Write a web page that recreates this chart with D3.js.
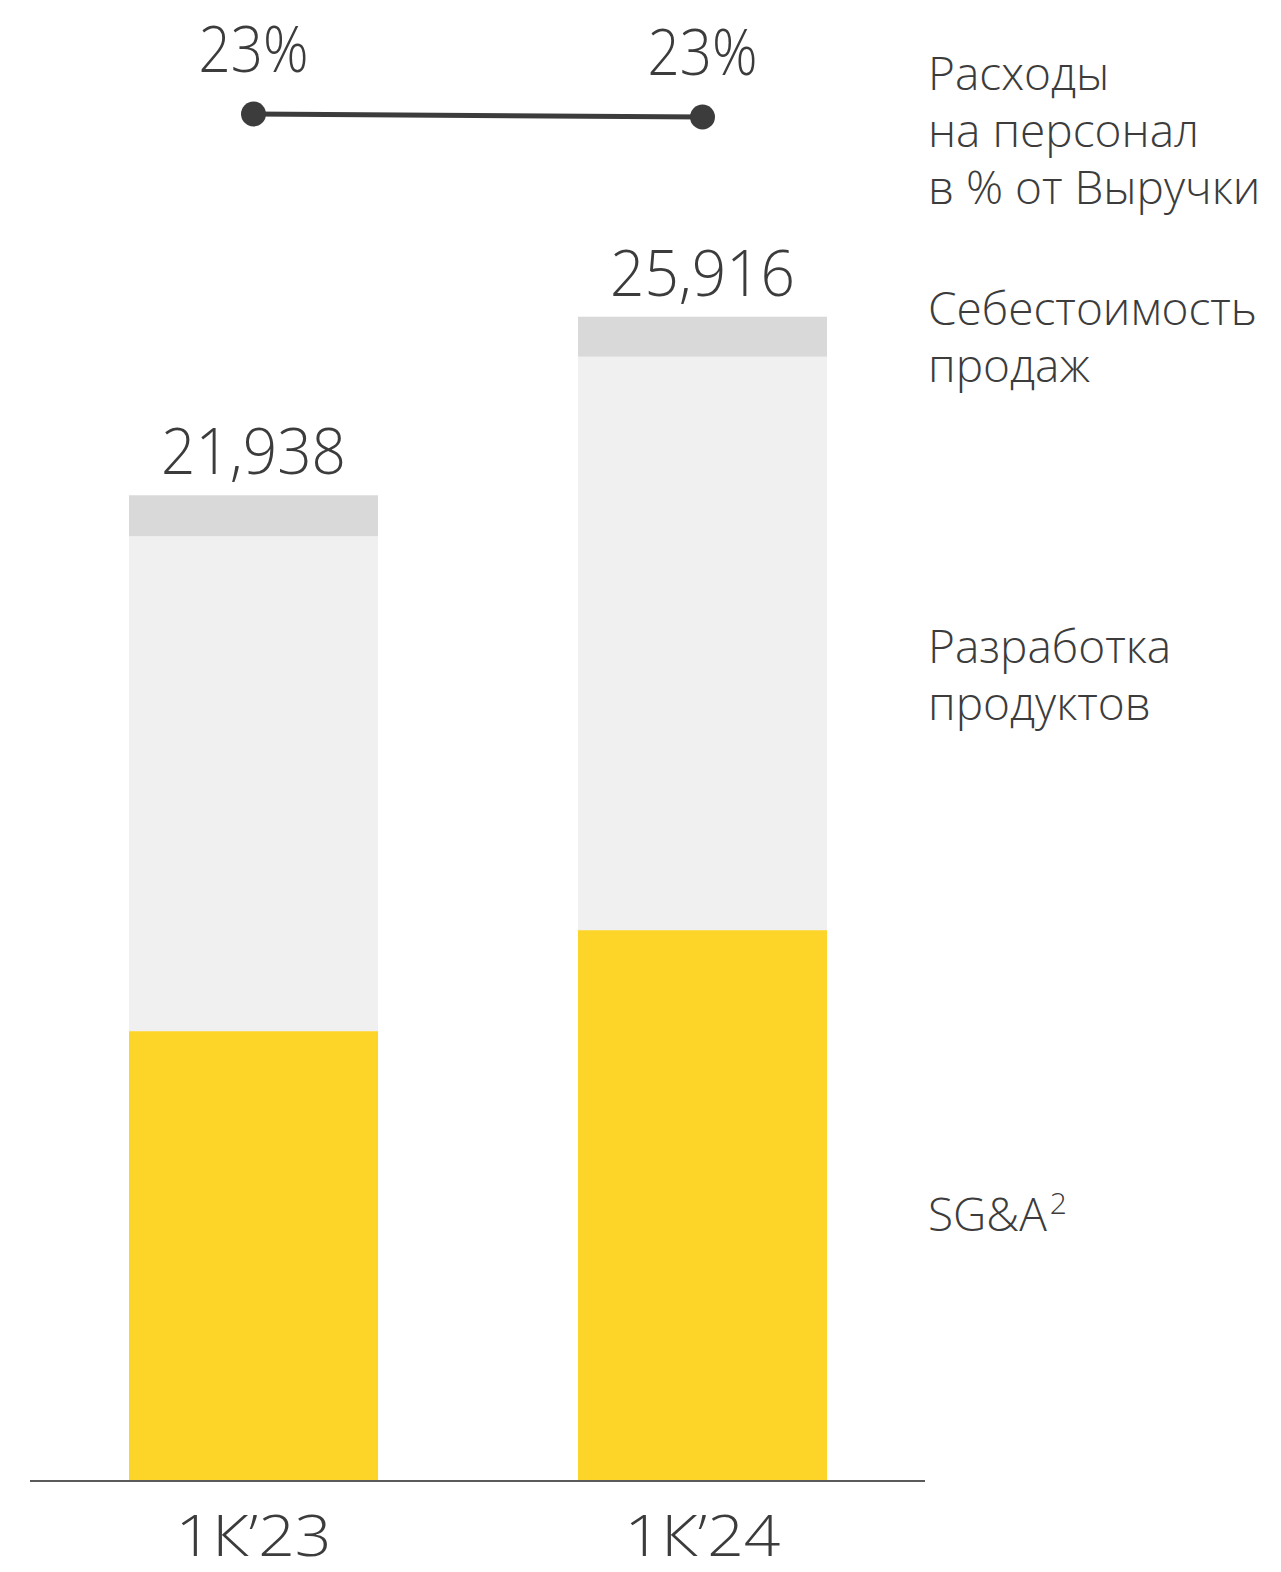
<!DOCTYPE html>
<html>
<head>
<meta charset="utf-8">
<script src="https://cdn.jsdelivr.net/npm/d3@7"></script>
<style>
  html, body { margin: 0; padding: 0; background: #fff; }
  svg text { font-family: "Open Sans", "DejaVu Sans", sans-serif; fill: #3c3c3c; font-weight: 300; }
</style>
</head>
<body>
<svg id="chart" width="1281" height="1572"></svg>
<script>
'use strict';

var periods = ["1К’23", "1К’24"];
var sgaValues = [10000, 12250];
var productValues = [11025, 12775];
var costValues = [913, 891];
var totals = [21938, 25916];
var staffPct = [23.4, 23.1];

var seriesKeys = ["sga", "product", "cost"];
var seriesColors = { sga: "#fdd428", product: "#f0f0f0", cost: "#d9d9d9" };

var legendLines = [
    { lines: ["Расходы", "на персонал", "в % от Выручки"], y: 90 },
    { lines: ["Себестоимость", "продаж"], y: 325 },
    { lines: ["Разработка", "продуктов"], y: 663 },
    { lines: ["SG&A"], y: 1231, sup: "2" }
];

var rows = periods.map(function (p, i) {
    return { period: p, sga: sgaValues[i], product: productValues[i], cost: costValues[i], total: totals[i], pct: staffPct[i] };
});

var svg = d3.select("#chart");

var baseY = 1480;

var x = d3.scaleBand()
    .domain(periods)
    .range([129, 827])
    .paddingInner(0.4454)
    .paddingOuter(0);

var y = d3.scaleLinear()
    .domain([0, 25916])
    .range([baseY, 316.7]);

var yPct = d3.scaleLinear()
    .domain([20, 26])
    .range([148, 88]);

var stack = d3.stack().keys(seriesKeys)(rows);

// bars
svg.append("g")
    .selectAll("g")
    .data(stack)
    .enter().append("g")
    .attr("fill", function (d) { return seriesColors[d.key]; })
    .selectAll("rect")
    .data(function (d) { return d; })
    .enter().append("rect")
    .attr("x", function (d) { return x(d.data.period); })
    .attr("width", x.bandwidth())
    .attr("y", function (d) { return y(d[1]); })
    .attr("height", function (d) { return y(d[0]) - y(d[1]); });

// baseline
svg.append("line")
    .attr("x1", 30).attr("x2", 925)
    .attr("y1", baseY + 1).attr("y2", baseY + 1)
    .attr("stroke", "#5a5a5a")
    .attr("stroke-width", 2);

var cx = function (d) { return x(d.period) + x.bandwidth() / 2; };

// totals
svg.append("g")
    .selectAll("text")
    .data(rows)
    .enter().append("text")
    .attr("x", cx)
    .attr("y", function (d) { return y(d.total) - 21; })
    .attr("text-anchor", "middle")
    .attr("font-size", 64)
    .attr("textLength", 185)
    .attr("lengthAdjust", "spacingAndGlyphs")
    .text(function (d) { return d3.format(",")(d.total); });

// category labels
svg.append("g")
    .selectAll("text")
    .data(rows)
    .enter().append("text")
    .attr("x", cx)
    .attr("y", 1556)
    .attr("text-anchor", "middle")
    .attr("font-size", 57)
    .attr("textLength", 156)
    .attr("lengthAdjust", "spacingAndGlyphs")
    .text(function (d) { return d.period; });

// staff cost line
svg.append("path")
    .datum(rows)
    .attr("fill", "none")
    .attr("stroke", "#3c3c3c")
    .attr("stroke-width", 5)
    .attr("d", d3.line().x(cx).y(function (d) { return yPct(d.pct); }));

svg.append("g")
    .selectAll("circle")
    .data(rows)
    .enter().append("circle")
    .attr("cx", cx)
    .attr("cy", function (d) { return yPct(d.pct); })
    .attr("r", 12.5)
    .attr("fill", "#3c3c3c");

svg.append("g")
    .selectAll("text")
    .data(rows)
    .enter().append("text")
    .attr("x", cx)
    .attr("y", function (d) { return yPct(d.pct) - 42; })
    .attr("text-anchor", "middle")
    .attr("font-size", 64)
    .attr("textLength", 110)
    .attr("lengthAdjust", "spacingAndGlyphs")
    .text(function (d) { return Math.round(d.pct) + "%"; });

// legend labels on the right
var legend = svg.append("g")
    .selectAll("text")
    .data(legendLines)
    .enter().append("text")
    .attr("x", 928)
    .attr("y", function (d) { return d.y; })
    .attr("font-size", 46);

legend.each(function (d) {
    var t = d3.select(this);
    d.lines.forEach(function (line, i) {
        t.append("tspan")
            .attr("x", 928)
            .attr("dy", i === 0 ? 0 : 57)
            .text(line);
    });
    if (d.sup) {
        t.append("tspan")
            .attr("dx", 3)
            .attr("dy", -17)
            .attr("font-size", 30)
            .text(d.sup);
    }
});
</script>
</body>
</html>
